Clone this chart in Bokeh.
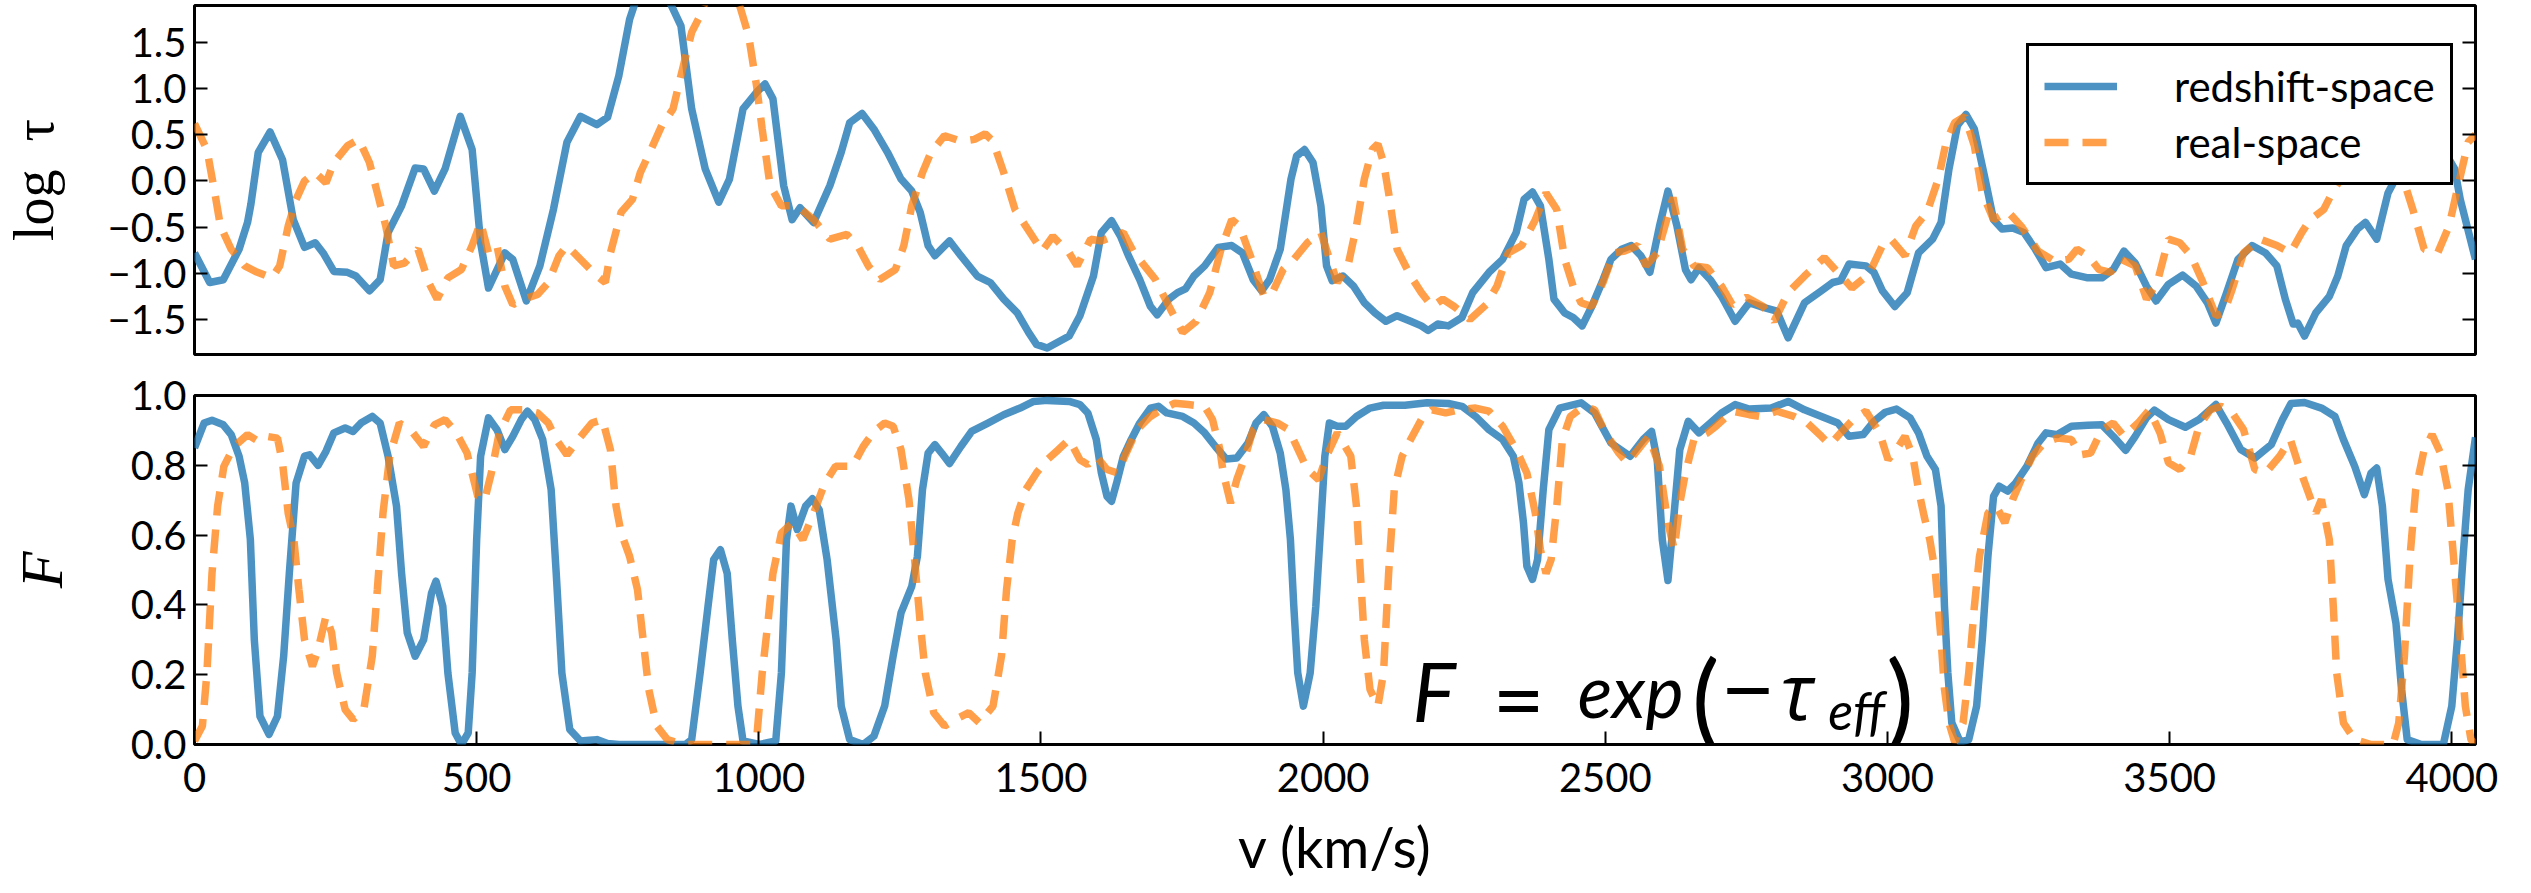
import math
from bokeh.plotting import figure
from bokeh.models import Range1d, LinearAxis, FixedTicker, CustomJSTickFormatter, Label
from bokeh.layouts import column
from bokeh.embed import file_html
from bokeh.resources import INLINE

# ---------------- data ----------------
v_ticks = [0, 500, 1000, 1500, 2000, 2500, 3000, 3500, 4000]
logtau_ticks = [-1.5, -1.0, -0.5, 0.0, 0.5, 1.0, 1.5]
flux_ticks = [0.0, 0.2, 0.4, 0.6, 0.8, 1.0]

v_tau_rs = [0, 27, 51, 79, 94, 100, 113, 134, 156, 175, 195, 214, 228, 247, 271, 286, 310, 329, 343, 367, 391, 406, 425, 444, 471, 492, 507, 521, 550, 564, 588, 612, 636, 660, 684, 713, 732, 752, 771, 790, 812, 830, 845, 862, 881, 905, 929, 948, 972, 996, 1011, 1025, 1044, 1059, 1073, 1097, 1126, 1146, 1161, 1183, 1204, 1228, 1252, 1271, 1286, 1300, 1312, 1338, 1358, 1387, 1410, 1434, 1458, 1478, 1492, 1511, 1550, 1569, 1593, 1607, 1625, 1641, 1655, 1675, 1694, 1706, 1727, 1742, 1756, 1771, 1790, 1814, 1838, 1857, 1876, 1891, 1905, 1924, 1943, 1953, 1967, 1982, 1996, 2006, 2016, 2035, 2054, 2073, 2092, 2111, 2131, 2155, 2174, 2186, 2203, 2222, 2246, 2265, 2294, 2318, 2342, 2356, 2371, 2385, 2400, 2409, 2428, 2443, 2459, 2476, 2496, 2510, 2529, 2546, 2563, 2579, 2596, 2611, 2627, 2642, 2652, 2666, 2686, 2706, 2730, 2755, 2780, 2804, 2824, 2853, 2883, 2903, 2917, 2932, 2962, 2976, 2991, 3013, 3035, 3055, 3080, 3095, 3109, 3124, 3139, 3154, 3173, 3188, 3203, 3222, 3242, 3262, 3281, 3306, 3326, 3355, 3380, 3400, 3419, 3439, 3459, 3476, 3498, 3523, 3547, 3567, 3582, 3601, 3621, 3646, 3670, 3690, 3705, 3719, 3727, 3739, 3759, 3783, 3798, 3813, 3833, 3847, 3867, 3887, 3906, 3930, 3950, 3975, 4005, 4015, 4042]
tau_rs = [-0.78, -1.10, -1.07, -0.74, -0.45, -0.25, 0.31, 0.53, 0.23, -0.42, -0.72, -0.67, -0.78, -0.98, -0.99, -1.03, -1.19, -1.07, -0.56, -0.27, 0.14, 0.13, -0.11, 0.13, 0.70, 0.34, -0.67, -1.16, -0.78, -0.85, -1.30, -0.92, -0.31, 0.42, 0.70, 0.61, 0.69, 1.14, 1.75, 2.10, 2.25, 2.10, 1.90, 1.68, 0.78, 0.13, -0.23, 0.02, 0.78, 0.96, 1.05, 0.89, -0.05, -0.42, -0.29, -0.45, -0.05, 0.31, 0.63, 0.73, 0.56, 0.31, 0.02, -0.11, -0.34, -0.70, -0.81, -0.65, -0.81, -1.03, -1.10, -1.28, -1.43, -1.64, -1.77, -1.81, -1.68, -1.46, -1.03, -0.56, -0.43, -0.60, -0.81, -1.07, -1.36, -1.45, -1.28, -1.21, -1.17, -1.03, -0.92, -0.72, -0.70, -0.78, -1.07, -1.19, -1.07, -0.74, 0.02, 0.27, 0.34, 0.20, -0.27, -0.92, -1.08, -1.03, -1.14, -1.32, -1.43, -1.52, -1.46, -1.52, -1.57, -1.62, -1.55, -1.57, -1.48, -1.21, -0.99, -0.85, -0.56, -0.20, -0.12, -0.27, -0.85, -1.28, -1.43, -1.48, -1.57, -1.36, -1.07, -0.85, -0.74, -0.70, -0.81, -0.99, -0.49, -0.11, -0.49, -0.96, -1.07, -0.94, -1.07, -1.25, -1.52, -1.32, -1.37, -1.41, -1.70, -1.32, -1.19, -1.10, -1.08, -0.90, -0.92, -0.99, -1.19, -1.36, -1.21, -0.78, -0.63, -0.45, 0.13, 0.60, 0.72, 0.56, 0.02, -0.42, -0.52, -0.51, -0.56, -0.74, -0.94, -0.90, -1.01, -1.05, -1.05, -0.96, -0.76, -0.89, -1.14, -1.30, -1.12, -1.02, -1.14, -1.32, -1.54, -1.21, -0.85, -0.70, -0.78, -0.92, -1.28, -1.55, -1.54, -1.68, -1.43, -1.25, -1.03, -0.70, -0.52, -0.45, -0.63, -0.13, 0.09, 0.35, 0.45, 0.45, 0.13, -0.20, -0.85]

v_tau_re = [0, 22, 36, 46, 65, 89, 108, 137, 151, 166, 180, 195, 214, 233, 247, 271, 291, 310, 324, 339, 353, 372, 396, 415, 430, 449, 473, 492, 507, 521, 536, 550, 564, 584, 608, 627, 646, 660, 684, 713, 728, 737, 756, 776, 790, 809, 828, 848, 862, 881, 896, 915, 935, 955, 968, 982, 996, 1006, 1020, 1040, 1068, 1097, 1126, 1156, 1175, 1194, 1214, 1242, 1257, 1271, 1290, 1305, 1329, 1358, 1382, 1401, 1415, 1434, 1454, 1473, 1502, 1521, 1550, 1564, 1588, 1607, 1646, 1665, 1703, 1727, 1751, 1775, 1799, 1819, 1838, 1852, 1871, 1895, 1910, 1929, 1948, 1972, 1996, 2025, 2044, 2059, 2073, 2087, 2097, 2107, 2116, 2131, 2155, 2174, 2193, 2212, 2232, 2260, 2289, 2308, 2328, 2352, 2376, 2395, 2414, 2428, 2443, 2457, 2476, 2496, 2515, 2534, 2558, 2572, 2592, 2620, 2637, 2657, 2681, 2706, 2725, 2750, 2780, 2799, 2824, 2853, 2888, 2912, 2937, 2967, 2991, 3006, 3031, 3050, 3070, 3090, 3104, 3119, 3137, 3154, 3168, 3188, 3213, 3237, 3267, 3296, 3321, 3336, 3355, 3375, 3395, 3414, 3439, 3459, 3478, 3498, 3518, 3538, 3557, 3582, 3596, 3611, 3631, 3660, 3690, 3714, 3734, 3749, 3773, 3788, 3803, 3830, 3860, 3890, 3916, 3931, 3951, 3975, 3995, 4015, 4029, 4042]
tau_re = [0.62, 0.34, -0.13, -0.49, -0.74, -0.92, -0.98, -1.05, -0.92, -0.49, -0.20, 0.00, 0.09, -0.02, 0.20, 0.38, 0.45, 0.20, -0.13, -0.49, -0.92, -0.89, -0.74, -1.10, -1.28, -1.05, -0.96, -0.70, -0.45, -0.78, -0.70, -1.14, -1.34, -1.28, -1.23, -1.10, -0.81, -0.70, -0.85, -1.03, -1.10, -0.78, -0.34, -0.20, 0.09, 0.34, 0.60, 0.78, 1.14, 1.61, 1.79, 2.10, 2.25, 2.10, 1.86, 1.57, 1.03, 0.56, -0.05, -0.27, -0.27, -0.42, -0.63, -0.58, -0.70, -0.92, -1.07, -0.96, -0.70, -0.27, 0.09, 0.31, 0.49, 0.43, 0.45, 0.51, 0.43, 0.09, -0.31, -0.49, -0.76, -0.60, -0.78, -0.92, -0.63, -0.65, -0.56, -0.78, -1.07, -1.36, -1.64, -1.52, -1.21, -0.74, -0.42, -0.49, -0.81, -1.25, -1.21, -0.96, -0.85, -0.67, -0.56, -1.10, -0.92, -0.49, 0.02, 0.34, 0.40, 0.20, -0.13, -0.74, -1.03, -1.21, -1.36, -1.28, -1.36, -1.50, -1.34, -1.14, -0.78, -0.70, -0.42, -0.13, -0.31, -0.85, -1.14, -1.32, -1.36, -1.10, -0.78, -0.76, -0.70, -0.92, -0.78, -0.18, -0.74, -0.92, -0.94, -1.14, -1.34, -1.26, -1.36, -1.52, -1.21, -1.03, -0.83, -0.99, -1.16, -1.01, -0.70, -0.63, -0.81, -0.49, -0.34, 0.02, 0.42, 0.63, 0.70, 0.38, -0.13, -0.42, -0.33, -0.49, -0.76, -0.87, -0.85, -0.74, -0.81, -0.96, -0.99, -0.85, -0.92, -1.28, -1.10, -0.63, -0.67, -0.81, -1.07, -1.46, -1.43, -1.17, -0.78, -0.63, -0.70, -0.78, -0.56, -0.42, -0.31, -0.13, 0.02, 0.25, 0.38, 0.30, -0.02, -0.31, -0.74, -0.78, -0.49, 0.05, 0.42, 0.50]

v_flux_rs = [0, 17, 31, 51, 65, 79, 89, 99, 106, 116, 132, 147, 158, 168, 180, 195, 204, 219, 233, 247, 267, 281, 295, 315, 329, 343, 358, 367, 377, 391, 406, 420, 428, 440, 449, 462, 473, 485, 492, 500, 507, 521, 536, 550, 564, 579, 590, 603, 617, 632, 641, 651, 665, 684, 700, 713, 732, 752, 870, 881, 896, 910, 920, 932, 944, 953, 963, 972, 1001, 1030, 1040, 1049, 1057, 1068, 1083, 1095, 1107, 1121, 1137, 1146, 1161, 1185, 1204, 1223, 1238, 1252, 1271, 1281, 1290, 1300, 1312, 1324, 1338, 1358, 1377, 1406, 1434, 1463, 1487, 1511, 1550, 1569, 1583, 1598, 1607, 1617, 1625, 1634, 1646, 1660, 1675, 1694, 1708, 1723, 1751, 1771, 1790, 1809, 1828, 1847, 1867, 1881, 1895, 1910, 1924, 1934, 1942, 1948, 1955, 1965, 1977, 1987, 1996, 2003, 2011, 2025, 2040, 2059, 2083, 2107, 2145, 2184, 2222, 2246, 2270, 2294, 2318, 2337, 2347, 2355, 2361, 2371, 2380, 2390, 2400, 2419, 2457, 2481, 2510, 2544, 2567, 2582, 2592, 2601, 2611, 2622, 2632, 2647, 2666, 2686, 2706, 2730, 2755, 2794, 2824, 2853, 2883, 2912, 2932, 2957, 2976, 2996, 3016, 3040, 3055, 3070, 3085, 3095, 3101, 3107, 3114, 3129, 3144, 3158, 3168, 3178, 3188, 3198, 3213, 3227, 3247, 3267, 3281, 3301, 3326, 3355, 3380, 3400, 3422, 3439, 3459, 3473, 3498, 3528, 3552, 3582, 3601, 3626, 3651, 3680, 3700, 3715, 3739, 3769, 3793, 3808, 3828, 3845, 3857, 3867, 3877, 3887, 3901, 3911, 3921, 3946, 3985, 4000, 4010, 4020, 4029, 4042]
flux_rs = [0.85, 0.921, 0.929, 0.916, 0.888, 0.826, 0.749, 0.587, 0.30, 0.081, 0.029, 0.081, 0.253, 0.49, 0.749, 0.826, 0.83, 0.80, 0.84, 0.893, 0.907, 0.897, 0.921, 0.94, 0.921, 0.826, 0.683, 0.49, 0.32, 0.253, 0.30, 0.434, 0.468, 0.396, 0.205, 0.033, 0.0, 0.033, 0.205, 0.587, 0.826, 0.936, 0.902, 0.845, 0.883, 0.931, 0.955, 0.931, 0.874, 0.73, 0.49, 0.205, 0.043, 0.010, 0.012, 0.014, 0.003, 0.0, 0.0, 0.014, 0.205, 0.396, 0.53, 0.558, 0.49, 0.30, 0.11, 0.01, 0.0, 0.01, 0.205, 0.587, 0.683, 0.616, 0.683, 0.704, 0.673, 0.53, 0.30, 0.11, 0.014, 0.0, 0.024, 0.11, 0.253, 0.377, 0.453, 0.539, 0.73, 0.835, 0.859, 0.835, 0.805, 0.854, 0.897, 0.921, 0.945, 0.964, 0.983, 0.986, 0.983, 0.974, 0.95, 0.874, 0.778, 0.711, 0.697, 0.749, 0.826, 0.874, 0.921, 0.964, 0.969, 0.95, 0.94, 0.921, 0.893, 0.854, 0.818, 0.821, 0.864, 0.921, 0.945, 0.912, 0.835, 0.73, 0.587, 0.396, 0.205, 0.11, 0.205, 0.396, 0.635, 0.826, 0.921, 0.912, 0.912, 0.94, 0.964, 0.972, 0.972, 0.979, 0.977, 0.969, 0.94, 0.902, 0.874, 0.826, 0.749, 0.635, 0.511, 0.473, 0.53, 0.73, 0.902, 0.964, 0.979, 0.95, 0.864, 0.826, 0.874, 0.897, 0.816, 0.587, 0.47, 0.663, 0.845, 0.926, 0.893, 0.921, 0.95, 0.974, 0.961, 0.964, 0.983, 0.959, 0.94, 0.921, 0.883, 0.888, 0.926, 0.952, 0.961, 0.936, 0.893, 0.826, 0.788, 0.683, 0.396, 0.205, 0.062, 0.007, 0.014, 0.11, 0.30, 0.539, 0.711, 0.74, 0.726, 0.749, 0.797, 0.864, 0.893, 0.888, 0.912, 0.915, 0.916, 0.883, 0.843, 0.883, 0.936, 0.958, 0.931, 0.909, 0.931, 0.974, 0.921, 0.845, 0.821, 0.859, 0.931, 0.977, 0.98, 0.964, 0.94, 0.874, 0.797, 0.716, 0.778, 0.792, 0.683, 0.473, 0.348, 0.158, 0.014, 0.0, 0.0, 0.11, 0.30, 0.539, 0.73, 0.88]

v_flux_re = [0, 14, 22, 31, 41, 52, 70, 94, 113, 128, 147, 156, 166, 176, 185, 195, 209, 219, 233, 243, 252, 267, 281, 300, 315, 324, 334, 346, 363, 387, 406, 425, 444, 464, 483, 502, 514, 526, 540, 560, 584, 608, 627, 641, 660, 680, 704, 723, 737, 747, 756, 771, 785, 795, 805, 819, 838, 867, 985, 997, 1006, 1016, 1025, 1040, 1059, 1078, 1097, 1117, 1136, 1166, 1185, 1204, 1223, 1238, 1252, 1266, 1276, 1286, 1295, 1310, 1329, 1348, 1372, 1391, 1415, 1430, 1439, 1449, 1459, 1473, 1492, 1511, 1531, 1550, 1569, 1583, 1598, 1617, 1636, 1651, 1670, 1694, 1713, 1737, 1761, 1790, 1804, 1817, 1823, 1836, 1847, 1862, 1876, 1895, 1919, 1939, 1953, 1972, 1992, 2006, 2025, 2049, 2059, 2066, 2073, 2083, 2097, 2107, 2116, 2126, 2140, 2155, 2174, 2193, 2217, 2241, 2270, 2294, 2318, 2342, 2361, 2376, 2385, 2395, 2404, 2414, 2424, 2438, 2462, 2481, 2500, 2524, 2539, 2558, 2577, 2596, 2611, 2622, 2633, 2642, 2657, 2681, 2696, 2725, 2755, 2775, 2804, 2834, 2858, 2883, 2898, 2917, 2942, 2962, 2986, 3001, 3016, 3031, 3045, 3055, 3065, 3075, 3085, 3095, 3101, 3109, 3119, 3134, 3144, 3154, 3163, 3178, 3193, 3208, 3222, 3237, 3257, 3277, 3301, 3326, 3341, 3360, 3380, 3400, 3419, 3444, 3464, 3483, 3498, 3518, 3537, 3552, 3572, 3591, 3611, 3631, 3651, 3670, 3695, 3714, 3729, 3744, 3759, 3769, 3783, 3790, 3796, 3808, 3828, 3857, 3896, 3906, 3916, 3926, 3936, 3951, 3965, 3980, 3993, 4003, 4015, 4024, 4034, 4042]
flux_re = [0.01, 0.053, 0.205, 0.49, 0.683, 0.797, 0.854, 0.888, 0.869, 0.883, 0.878, 0.807, 0.663, 0.587, 0.444, 0.30, 0.224, 0.272, 0.368, 0.32, 0.205, 0.10, 0.072, 0.10, 0.253, 0.444, 0.663, 0.826, 0.921, 0.893, 0.854, 0.916, 0.931, 0.893, 0.835, 0.711, 0.70, 0.778, 0.893, 0.959, 0.959, 0.95, 0.921, 0.874, 0.83, 0.874, 0.921, 0.931, 0.845, 0.683, 0.606, 0.539, 0.444, 0.30, 0.158, 0.053, 0.014, 0.0, 0.0, 0.033, 0.205, 0.348, 0.49, 0.606, 0.635, 0.587, 0.663, 0.749, 0.797, 0.797, 0.854, 0.897, 0.921, 0.912, 0.845, 0.702, 0.53, 0.348, 0.205, 0.091, 0.053, 0.072, 0.091, 0.062, 0.11, 0.253, 0.444, 0.587, 0.663, 0.73, 0.778, 0.816, 0.845, 0.874, 0.816, 0.802, 0.826, 0.788, 0.778, 0.835, 0.902, 0.94, 0.959, 0.978, 0.974, 0.969, 0.931, 0.845, 0.778, 0.692, 0.759, 0.826, 0.902, 0.931, 0.921, 0.902, 0.854, 0.788, 0.759, 0.826, 0.893, 0.826, 0.683, 0.49, 0.30, 0.158, 0.11, 0.205, 0.49, 0.73, 0.826, 0.874, 0.931, 0.959, 0.95, 0.959, 0.964, 0.955, 0.912, 0.845, 0.778, 0.663, 0.558, 0.49, 0.53, 0.683, 0.874, 0.94, 0.969, 0.959, 0.893, 0.835, 0.807, 0.845, 0.883, 0.797, 0.635, 0.56, 0.70, 0.778, 0.874, 0.893, 0.912, 0.955, 0.945, 0.94, 0.955, 0.94, 0.921, 0.883, 0.859, 0.893, 0.936, 0.955, 0.893, 0.816, 0.845, 0.883, 0.826, 0.73, 0.654, 0.587, 0.49, 0.30, 0.158, 0.062, 0.007, 0.062, 0.205, 0.396, 0.539, 0.663, 0.683, 0.635, 0.702, 0.759, 0.826, 0.864, 0.878, 0.874, 0.83, 0.835, 0.902, 0.921, 0.883, 0.921, 0.959, 0.893, 0.807, 0.788, 0.826, 0.912, 0.959, 0.969, 0.95, 0.902, 0.788, 0.778, 0.826, 0.874, 0.797, 0.73, 0.663, 0.702, 0.587, 0.396, 0.205, 0.062, 0.014, 0.0, 0.0, 0.062, 0.253, 0.539, 0.73, 0.845, 0.888, 0.835, 0.73, 0.539, 0.30, 0.11, 0.014, 0.0]

series_labels = ["redshift-space", "real-space"]
axis_titles = {"top_y": "log\u2002τ", "bottom_y": "F", "x": "v (km/s)"}

# ---------------- styling ----------------
BLUE = "#1f77b4"
ORANGE = "#ff7f0e"
SANS = "Lato"
SERIF = "Liberation Serif"
X_MAX = 4042
FRAME_W, FRAME_H = 2281, 349
LW = 7.5
DASH = "24 14"

minus_fmt = CustomJSTickFormatter(code="return tick.toFixed(1).replace('-', '\\u2212');")
blank_fmt = CustomJSTickFormatter(code="return '';")


def style_axis(ax, ticks, fmt=None, standoff=8):
    ax.ticker = FixedTicker(ticks=ticks)
    if fmt is not None:
        ax.formatter = fmt
    ax.major_tick_in = 13
    ax.major_tick_out = 0
    ax.major_tick_line_width = 2
    ax.major_tick_line_color = "black"
    ax.minor_tick_line_color = None
    ax.axis_line_color = None
    ax.major_label_text_font = SANS
    ax.major_label_text_font_size = "40px"
    ax.major_label_text_color = "black"
    ax.major_label_standoff = standoff


def base(p):
    p.outline_line_color = "black"
    p.outline_line_width = 3
    p.outline_line_alpha = 1
    p.background_fill_color = "white"
    p.border_fill_color = "white"
    p.xgrid.visible = False
    p.ygrid.visible = False


def lab(fig, x, y, text, size, font=SANS, italic=False):
    fig.add_layout(Label(x=x, y=y, text=text, text_font=font, text_font_size=size,
                         text_font_style="italic" if italic else "normal",
                         text_align="left", text_baseline="alphabetic", text_color="black"))


# ---------------- top panel: log tau ----------------
p1 = figure(frame_width=FRAME_W, frame_height=FRAME_H,
            min_border_left=186, min_border_right=48, min_border_top=5, min_border_bottom=5,
            x_range=Range1d(0, X_MAX), y_range=Range1d(-1.88, 1.9),
            x_axis_type=None, toolbar_location=None, output_backend="svg", title=None)
base(p1)
ya1 = p1.yaxis[0]
style_axis(ya1, logtau_ticks, minus_fmt)
ya1.axis_label = axis_titles["top_y"]
ya1.axis_label_text_font = SERIF
ya1.axis_label_text_font_style = "normal"
ya1.axis_label_text_font_size = "56px"
ya1.axis_label_text_color = "black"
ya1.axis_label_standoff = 39
r_ax1 = LinearAxis()
style_axis(r_ax1, logtau_ticks, blank_fmt)
p1.add_layout(r_ax1, "right")

p1.line(v_tau_rs, tau_rs, line_color=BLUE, line_alpha=0.8, line_width=LW,
        line_join="round", legend_label=series_labels[0])
p1.line(v_tau_re, tau_re, line_color=ORANGE, line_alpha=0.75, line_width=LW,
        line_dash=DASH, line_cap="butt", legend_label=series_labels[1])

lg = p1.legend[0]
lg.location = (1832, 169)
lg.padding = 15
lg.spacing = 6
lg.glyph_width = 73
lg.glyph_height = 36
lg.label_height = 36
lg.label_standoff = 57
lg.label_text_font = SANS
lg.label_text_font_size = "42px"
lg.label_text_color = "black"
lg.border_line_color = "black"
lg.border_line_width = 3
lg.border_line_alpha = 1
lg.background_fill_alpha = 1

# ---------------- bottom panel: flux ----------------
p2 = figure(frame_width=FRAME_W, frame_height=FRAME_H,
            min_border_left=186, min_border_right=48, min_border_top=36, min_border_bottom=128,
            x_range=p1.x_range, y_range=Range1d(0.0, 1.0),
            toolbar_location=None, output_backend="svg", title=None)
base(p2)
ya2 = p2.yaxis[0]
style_axis(ya2, flux_ticks, minus_fmt)
ya2.axis_label = axis_titles["bottom_y"]
ya2.axis_label_text_font = SERIF
ya2.axis_label_text_font_style = "italic"
ya2.axis_label_text_font_size = "60px"
ya2.axis_label_text_color = "black"
ya2.axis_label_standoff = 53
r_ax2 = LinearAxis()
style_axis(r_ax2, flux_ticks, blank_fmt)
p2.add_layout(r_ax2, "right")

xa = p2.xaxis[0]
style_axis(xa, v_ticks, None, standoff=18)
xa.axis_label = axis_titles["x"]
xa.axis_label_text_font = SANS
xa.axis_label_text_font_style = "normal"
xa.axis_label_text_font_size = "56px"
xa.axis_label_text_color = "black"
xa.axis_label_standoff = 18

p2.line(v_flux_rs, flux_rs, line_color=BLUE, line_alpha=0.8, line_width=LW, line_join="round")
p2.line(v_flux_re, flux_re, line_color=ORANGE, line_alpha=0.75, line_width=LW,
        line_dash=DASH, line_cap="butt")

# annotation  F = exp(-tau_eff)
lab(p2, 2158, 0.155, "F", "82px", italic=True)
lab(p2, 2300, 0.135, "=", "90px")
lab(p2, 2451, 0.155, "exp", "72px", italic=True)
lab(p2, 2653, 0.138, "(", "104px")
lab(p2, 2708, 0.155, "\u2212", "88px", font="Open Sans")
lab(p2, 2810, 0.155, "τ", "78px", font="Open Sans", italic=True)
lab(p2, 2895, 0.100, "eff", "52px", italic=True)
lab(p2, 2998, 0.138, ")", "104px")

layout = column(p1, p2)
open("out.html", "w").write(file_html(layout, INLINE))
